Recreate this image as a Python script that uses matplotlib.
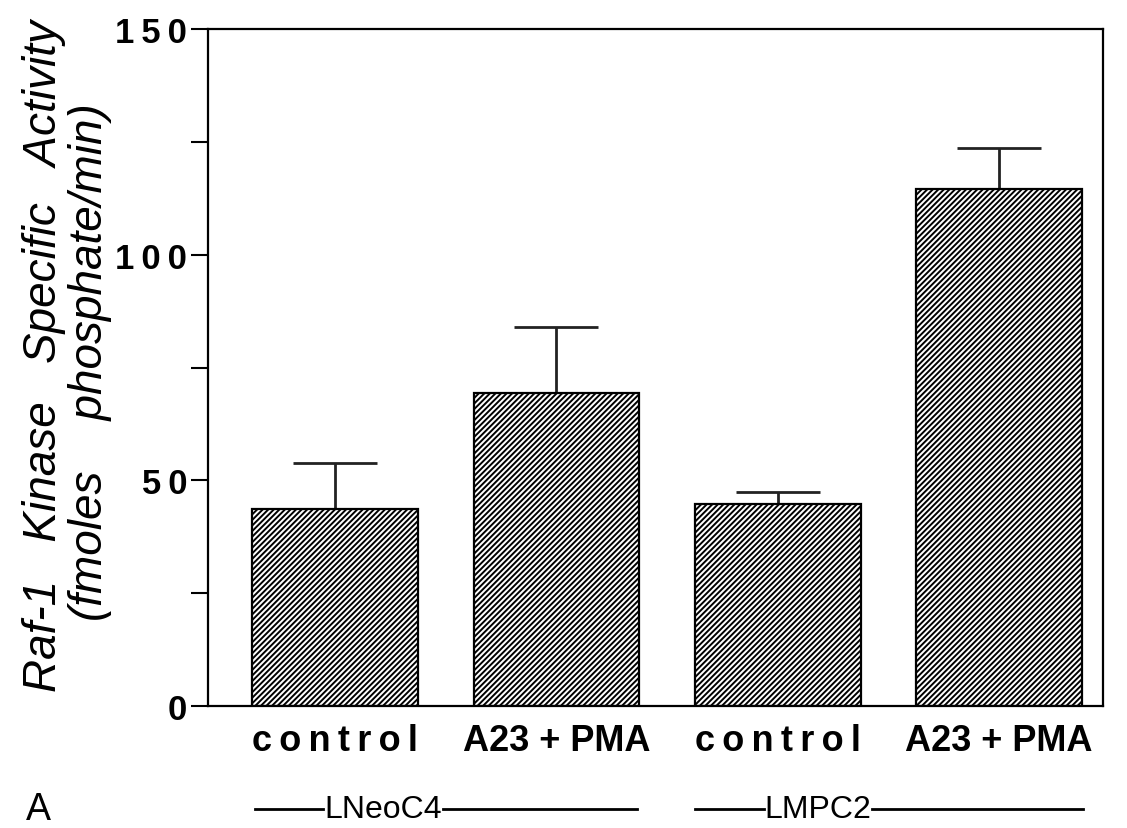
import matplotlib
matplotlib.use('Agg')
import matplotlib.pyplot as plt
import numpy as np

plt.rcParams['font.family'] = ['Liberation Sans', 'DejaVu Sans']
plt.rcParams['hatch.linewidth'] = 1.4

# values
labels = ['control', 'A23 + PMA', 'control', 'A23 + PMA']
activity = [43.6, 69.4, 44.8, 114.6]
err_up = [10.3, 14.6, 2.6, 9.0]
groups = ['LNeoC4', 'LMPC2']
yticks = [0, 50, 100, 150]

fig = plt.figure(figsize=(11.27, 8.29), dpi=100)
ax = fig.add_axes([208/1127, 1-707/829, (1103-208)/1127, (707-30)/829])

x = np.arange(len(activity))
ax.bar(x, activity, width=0.75, color='white', edgecolor='black',
       linewidth=1.6, hatch='//////', zorder=2)
ax.errorbar(x, activity, yerr=[np.zeros(len(err_up)), err_up], fmt='none',
            ecolor='#222222', elinewidth=2, capsize=30, capthick=2, zorder=1)

ax.set_xlim(-0.575, 3.47)
ax.set_ylim(0, 150)
ax.set_yticks(yticks)
ax.set_yticklabels(['\u2009'.join(str(t)) for t in yticks], fontsize=25, weight='bold')
ax.set_yticks([25, 75, 125], minor=True)
ax.tick_params(axis='y', which='both', direction='out', length=12, width=1.5, pad=3)
ax.set_xticks(x)
# letter spacing on "control" like the original typesetting
ax.set_xticklabels([l if ' ' in l else '\u2009'.join(l) for l in labels],
                   fontsize=26, weight='bold')
ax.tick_params(axis='x', length=0, pad=12)
for s in ax.spines.values():
    s.set_linewidth(1.6)

# y axis title, two lines
fig.text(44/1127, 1-356/829, 'Raf-1   Kinase   Specific   Activity', rotation=90,
         style='italic', fontsize=33, ha='center', va='center')
fig.text(90/1127, 1-362/829, '(fmoles    phosphate/min)', rotation=90,
         style='italic', fontsize=33, ha='center', va='center')

# group labels with lines either side
fy = 1 - 810/829
fig.canvas.draw()
r = fig.canvas.get_renderer()
for g, (x0, xc, x3) in zip(groups, [(255, 383, 637), (695, 818, 1083)]):
    t = fig.text(xc / 1127, fy, g, fontsize=23, ha='center', va='center')
    bb = t.get_window_extent(r)
    fig.add_artist(plt.Line2D([x0/1127, (bb.x0 - 1)/1127], [fy, fy], color='black', lw=2))
    fig.add_artist(plt.Line2D([(bb.x1 + 1)/1127, x3/1127], [fy, fy], color='black', lw=2))

fig.text(38/1127, fy, 'A', fontsize=27, ha='center', va='center')

fig.savefig('out.png', dpi=100)
